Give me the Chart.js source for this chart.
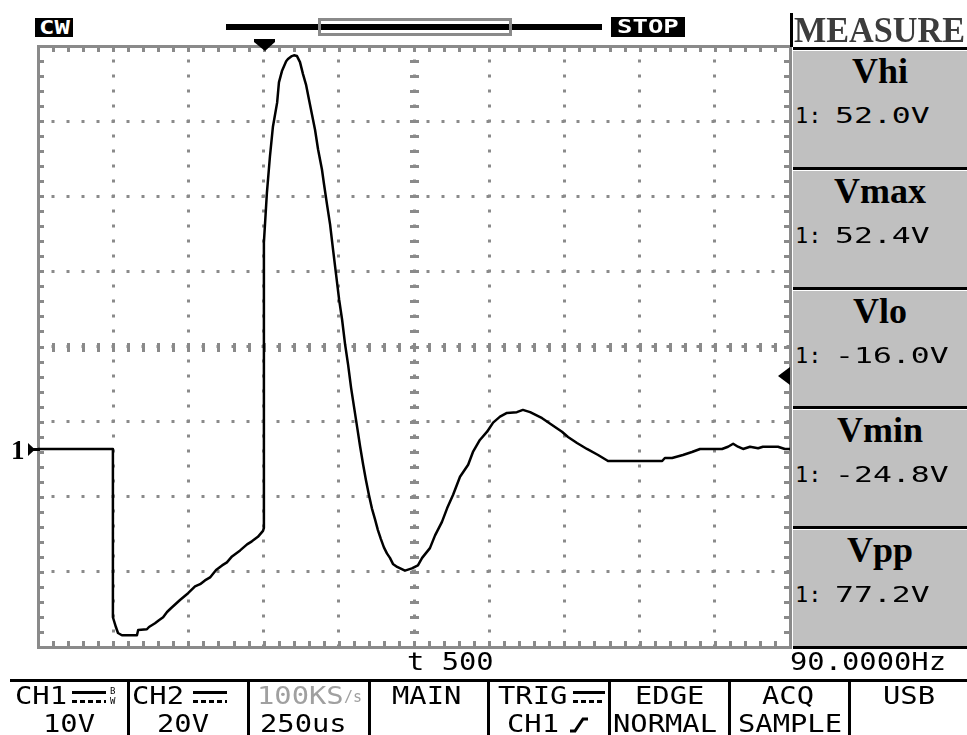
<!DOCTYPE html>
<html>
<head>
<meta charset="utf-8">
<title>CH1 pulse capture</title>
<script src="https://cdn.jsdelivr.net/npm/chart.js@4"></script>
<style>
    body { margin: 0; background: #fff; }
    #screen { position: relative; width: 967px; height: 735px; overflow: hidden; background: #fff; }
    #scope { position: absolute; left: 0; top: 0; }
    .mono { position: absolute; font-family: "DejaVu Sans Mono", monospace; white-space: pre; color: #000; transform-origin: 0 0; }
    .b24 { font-size: 24px; line-height: 24px; transform: scaleX(1.2); }
    .v22 { font-size: 22px; line-height: 22px; }
    .wide { transform: scaleX(1.43); }
    .serif { position: absolute; font-family: "Liberation Serif", serif; font-weight: bold; font-size: 36px; line-height: 36px; white-space: pre; }
    .blk { position: absolute; background: #000; }
    .cell { position: absolute; background: #c0c0c0; }
    .inv { position: absolute; background: #000; color: #fff; font-family: "DejaVu Sans Mono", monospace; font-weight: bold;
           font-size: 19px; line-height: 19px; text-align: center; overflow: hidden; }
    .inv span { display: inline-block; transform: scaleX(1.35); }
    .dc { position: absolute; height: 12px; }
    .dc .solid { height: 3px; background: #000; }
    .dc .dash { height: 3px; margin-top: 6px; background: repeating-linear-gradient(90deg, #000 0 5px, transparent 5px 8px); }
    .tiny { position: absolute; font-family: "DejaVu Sans Mono", monospace; font-size: 9px; line-height: 9px; }
</style>
</head>
<body>
<div id="screen">
    <canvas id="scope" width="967" height="735"></canvas>

    <!-- status line -->
    <div class="inv" style="left:35px; top:18px; width:38px; height:19px;"><span>CW</span></div>
    <div class="blk" style="left:226px; top:24px; width:376px; height:6px;"></div>
    <div style="position:absolute; left:318px; top:18px; width:188px; height:12px; border:3px solid #8a8a8a;"></div>
    <div class="inv" style="left:611px; top:17px; width:74px; height:20px;"><span>STOP</span></div>

    <!-- measure menu header -->
    <div class="blk" style="left:790px; top:13px; width:3px; height:34px;"></div>
    <div class="serif" style="left:794px; top:12px; color:#3c3c3c; transform:scaleX(0.95); transform-origin:0 0;">MEASURE</div>

    <!-- readouts under the graticule -->
    <div class="mono b24" style="left:407px; top:650px;">t 500</div>
    <div class="mono b24" style="left:790px; top:650px;">90.0000Hz</div>

    <!-- bottom soft-key bar -->
    <div class="blk" style="left:10px; top:679px; width:957px; height:3px;"></div>
    <div class="blk" style="left:127px; top:682px; width:3px; height:53px;"></div>
    <div class="blk" style="left:247px; top:682px; width:3px; height:53px;"></div>
    <div class="blk" style="left:368px; top:682px; width:3px; height:53px;"></div>
    <div class="blk" style="left:487px; top:682px; width:3px; height:53px;"></div>
    <div class="blk" style="left:608px; top:682px; width:3px; height:53px;"></div>
    <div class="blk" style="left:728px; top:682px; width:3px; height:53px;"></div>
    <div class="blk" style="left:848px; top:682px; width:3px; height:53px;"></div>

    <div class="mono b24" style="left:15px; top:684px;">CH1</div>
    <div class="dc" style="left:72px; top:691px; width:34px;"><div class="solid"></div><div class="dash"></div></div>
    <div class="tiny" style="left:110px; top:687px;">B</div>
    <div class="tiny" style="left:110px; top:697px;">W</div>
    <div class="mono b24" style="left:43px; top:712px;">10V</div>

    <div class="mono b24" style="left:132px; top:684px;">CH2</div>
    <div class="dc" style="left:193px; top:691px; width:34px;"><div class="solid"></div><div class="dash"></div></div>
    <div class="mono b24" style="left:157px; top:712px;">20V</div>

    <div class="mono b24" style="left:257px; top:684px; color:#a0a0a0;">100KS</div>
    <div class="mono" style="left:344px; top:690px; font-size:15px; line-height:15px; color:#a0a0a0;">/s</div>
    <div class="mono b24" style="left:260px; top:712px;">250us</div>

    <div class="mono b24" style="left:392px; top:684px;">MAIN</div>

    <div class="mono b24" style="left:498px; top:684px;">TRIG</div>
    <div class="dc" style="left:573px; top:691px; width:32px;"><div class="solid"></div><div class="dash"></div></div>
    <div class="mono b24" style="left:507px; top:712px;">CH1</div>
    <svg style="position:absolute; left:569px; top:716px;" width="20" height="18">
        <polyline points="1,15 6,15 14,3 19,3" fill="none" stroke="#000" stroke-width="3"/>
    </svg>

    <div class="mono b24" style="left:635px; top:684px;">EDGE</div>
    <div class="mono b24" style="left:613px; top:712px;">NORMAL</div>
    <div class="mono b24" style="left:762px; top:684px;">ACQ</div>
    <div class="mono b24" style="left:738px; top:712px;">SAMPLE</div>
    <div class="mono b24" style="left:883px; top:684px;">USB</div>
</div>

<script>
    // CH1 trace: time from the left edge of the screen (us) and level (V)
    const TIME_US = [
        0, 249, 249, 259, 266, 279, 329, 333, 362, 369,
        389, 402, 416, 429, 442, 472, 499, 522, 539, 555,
        572, 592, 612, 628, 645, 672, 695, 711, 731, 748,
        751, 751, 761, 771, 781, 795, 801, 811, 825, 831,
        844, 851, 861, 871, 881, 891, 901, 911, 921, 931,
        944, 951, 961, 971, 981, 991, 1001, 1011, 1021, 1031,
        1041, 1051, 1061, 1071, 1081, 1090, 1100, 1110, 1120, 1130,
        1140, 1150, 1160, 1170, 1180, 1194, 1220, 1243, 1263, 1277,
        1303, 1320, 1343, 1360, 1380, 1403, 1430, 1446, 1469, 1493,
        1513, 1536, 1559, 1592, 1612, 1636, 1676, 1709, 1742, 1762,
        1792, 1825, 1862, 1895, 1978, 2075, 2084, 2108, 2144, 2174,
        2201, 2274, 2294, 2311, 2327, 2344, 2367, 2394, 2410, 2460,
        2483, 2500
    ];
    const CH1_VOLTS = [
        0, 0, -22.4, -23.7, -24.5, -24.8, -24.8, -24.1, -24.0, -23.7,
        -23.2, -22.8, -22.4, -21.7, -21.2, -20.1, -19.2, -18.3, -18.0, -17.5,
        -17.1, -16.1, -15.5, -15.1, -14.3, -13.5, -12.7, -12.3, -11.7, -10.9,
        -10.5, 27.5, 34.1, 38.9, 42.9, 46.1, 48.8, 50.3, 51.6, 51.9,
        52.3, 52.4, 52.3, 51.5, 49.9, 48.5, 46.5, 44.5, 42.5, 39.9,
        37.2, 35.2, 32.5, 29.9, 26.5, 23.2, 19.9, 17.2, 13.9, 11.2,
        8.1, 5.5, 2.9, 0.3, -2.1, -4.1, -6.1, -7.9, -9.3, -10.8,
        -12.0, -13.1, -13.9, -14.5, -15.3, -15.7, -16.2, -15.9, -15.5, -14.5,
        -13.2, -11.5, -9.7, -7.9, -6.1, -3.7, -2.1, -0.4, 1.2, 2.3,
        3.5, 4.3, 4.8, 4.9, 5.2, 4.9, 4.1, 3.2, 2.3, 1.6,
        0.8, 0, -0.8, -1.6, -1.6, -1.6, -1.2, -1.2, -0.8, -0.4,
        0, 0, 0.3, 0.7, 0.3, 0, 0.3, 0.1, 0.3, 0.3,
        0, 0
    ];

    // measurement menu
    const MEAS_NAMES = ['Vhi', 'Vmax', 'Vlo', 'Vmin', 'Vpp'];
    const MEAS_VALUES = [52.0, 52.4, -16.0, -24.8, 77.2];

    // 250 us/div x 10 div, 10 V/div x 8 div, ground 2.64 div up from the bottom
    const X_MIN = 0, X_STEP = 250, X_MAX = X_MIN + 10 * X_STEP;
    const Y_STEP = 10, Y_MIN = -26.36, Y_MAX = Y_MIN + 8 * Y_STEP;
    const TRIG_TIME = 750;
    const TRIG_LEVEL = 9.7;

    const GREY = '#8a8a8a';

    // build the measure boxes on the right
    var screen = document.getElementById('screen');
    function addBox(cls, css, text) {
        var d = document.createElement('div');
        d.className = cls;
        d.style.cssText = css;
        if (text !== undefined) d.textContent = text;
        screen.appendChild(d);
        return d;
    }
    MEAS_NAMES.forEach(function (name, i) {
        var top = 47 + i * 119.8;
        addBox('blk', 'left:793px; top:' + top + 'px; width:174px; height:3px;');
        addBox('cell', 'left:793px; top:' + (top + 4) + 'px; width:174px; height:116px;');
        addBox('serif', 'left:793px; width:174px; text-align:center; top:' + (top + 6) + 'px;', name);
        addBox('mono v22', 'left:795px; top:' + (top + 58) + 'px;', '1:');
        addBox('mono v22 wide', 'left:835px; top:' + (top + 58) + 'px;', MEAS_VALUES[i].toFixed(1) + 'V');
    });
    addBox('blk', 'left:793px; top:' + (47 + 5 * 119.8) + 'px; width:174px; height:3px;');

    // graticule frame, edge ticks, centre crosses and the channel / trigger markers
    const scopeFrame = {
        id: 'scopeFrame',
        beforeDatasetsDraw(chart) {
            const { ctx, chartArea: a, scales: { x, y } } = chart;
            const cx = Math.round(x.getPixelForValue((X_MIN + X_MAX) / 2));
            const cy = Math.round(y.getPixelForValue((Y_MIN + Y_MAX) / 2));
            ctx.save();
            ctx.fillStyle = GREY;
            for (let t = X_MIN; t <= X_MAX + 1e-6; t += X_STEP / 5) {
                const px = Math.round(x.getPixelForValue(t));
                ctx.fillRect(px - 1, a.top, 3, 6);
                ctx.fillRect(px - 1, a.bottom - 6, 3, 6);
                ctx.fillRect(px - 1, cy - 4, 3, 9);
            }
            for (let v = Y_MIN; v <= Y_MAX + 1e-6; v += Y_STEP / 5) {
                const py = Math.round(y.getPixelForValue(v));
                ctx.fillRect(a.left, py - 1, 6, 3);
                ctx.fillRect(a.right - 6, py - 1, 6, 3);
                ctx.fillRect(cx - 4, py - 1, 9, 3);
            }
            ctx.strokeStyle = GREY;
            ctx.lineWidth = 3;
            ctx.strokeRect(a.left + 0.5, a.top + 0.5, a.right - a.left, a.bottom - a.top);
            ctx.restore();
        },
        afterDatasetsDraw(chart) {
            const { ctx, chartArea: a, scales: { x, y } } = chart;
            ctx.save();
            ctx.fillStyle = '#000';

            // trigger position
            const tx = Math.round(x.getPixelForValue(TRIG_TIME));
            ctx.beginPath();
            ctx.moveTo(tx - 10, a.top - 7);
            ctx.lineTo(tx + 11, a.top - 7);
            ctx.lineTo(tx + 11, a.top - 4);
            ctx.lineTo(tx + 1, a.top + 5);
            ctx.lineTo(tx - 10, a.top - 4);
            ctx.closePath();
            ctx.fill();

            // trigger level
            const ly = Math.round(y.getPixelForValue(TRIG_LEVEL));
            ctx.beginPath();
            ctx.moveTo(a.right - 12, ly);
            ctx.lineTo(a.right, ly - 9);
            ctx.lineTo(a.right, ly + 9);
            ctx.closePath();
            ctx.fill();

            // CH1 ground reference
            const gy = Math.round(y.getPixelForValue(0));
            ctx.fillRect(a.left - 8, gy - 1, 10, 3);
            ctx.beginPath();
            ctx.moveTo(a.left - 3, gy + 0.5);
            ctx.lineTo(a.left - 10, gy - 6);
            ctx.lineTo(a.left - 10, gy + 7);
            ctx.closePath();
            ctx.fill();
            ctx.font = 'bold 27px "Liberation Serif"';
            ctx.textBaseline = 'alphabetic';
            ctx.fillText('1', 11, gy + 10);
            ctx.restore();
        }
    };

    var trace = [];
    for (var i = 0; i < TIME_US.length; i++) {
        trace.push({ x: TIME_US[i], y: CH1_VOLTS[i] });
    }

    new Chart(document.getElementById('scope'), {
        type: 'line',
        data: {
            datasets: [{
                label: 'CH1',
                data: trace,
                borderColor: '#000',
                borderWidth: 2.5,
                borderJoinStyle: 'round',
                pointRadius: 0,
                tension: 0,
                fill: false
            }]
        },
        options: {
            responsive: false,
            animation: false,
            events: [],
            layout: { padding: { left: 38, top: 46, right: 177, bottom: 88 } },
            plugins: { legend: { display: false }, tooltip: { enabled: false } },
            scales: {
                x: {
                    type: 'linear',
                    min: X_MIN,
                    max: X_MAX,
                    ticks: { display: false, stepSize: X_STEP },
                    grid: { color: GREY, lineWidth: 3, drawTicks: false },
                    border: { display: false, dash: [3, 12], dashOffset: 1.5 }
                },
                y: {
                    type: 'linear',
                    min: Y_MIN,
                    max: Y_MAX,
                    afterBuildTicks: function (scale) {
                        var ticks = [];
                        for (var k = 0; k <= 8; k++) ticks.push({ value: Y_MIN + k * Y_STEP });
                        scale.ticks = ticks;
                    },
                    ticks: { display: false },
                    grid: { color: GREY, lineWidth: 3, drawTicks: false },
                    border: { display: false, dash: [3, 12], dashOffset: 1.5 }
                }
            }
        },
        plugins: [scopeFrame]
    });
</script>
</body>
</html>
